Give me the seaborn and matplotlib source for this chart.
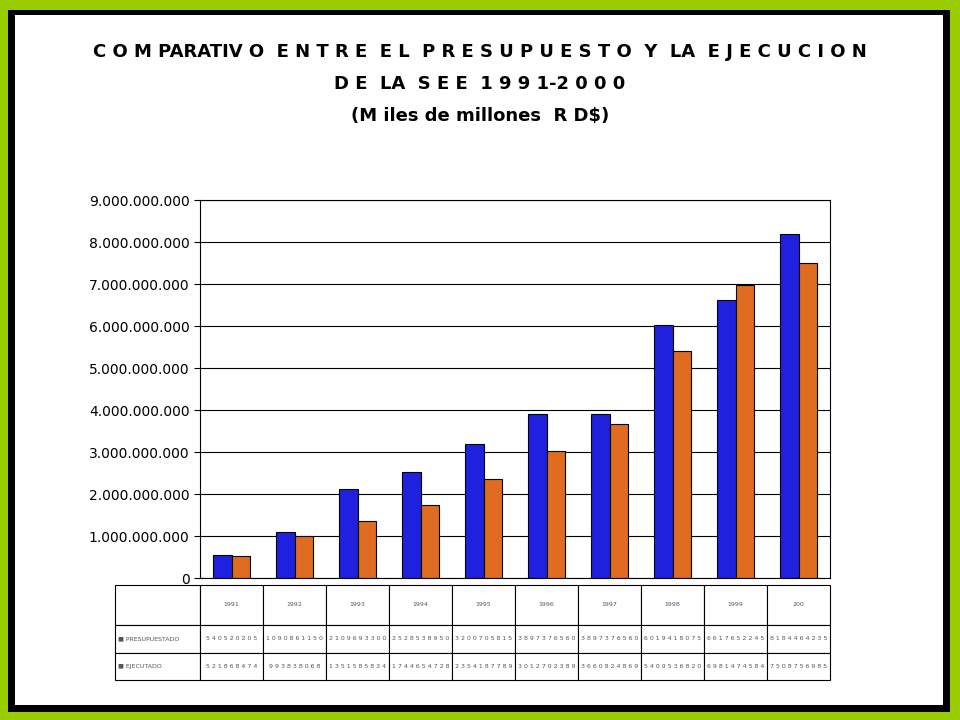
import matplotlib
matplotlib.use("Agg")
import matplotlib.pyplot as plt
import seaborn as sns
import pandas as pd
from matplotlib.patches import Rectangle
from matplotlib.ticker import FuncFormatter

years = ["1991", "1992", "1993", "1994", "1995", "1996", "1997", "1998", "1999", "2000"]
year_labels = ["1991", "1992", "1993", "1994", "1995", "1996", "1997", "1998", "1999", "200"]
presupuestado = [540520205, 1090861150, 2109693300, 2528538950, 3200705815,
                 3897376560, 3897376560, 6019418075, 6617652245, 8184464235]
ejecutado = [521868474, 993838068, 1351585834, 1744654728, 2354187789,
             3012702389, 3660824869, 5409536820, 6981474584, 7508756985]
series = ["PRESUPUESTADO", "EJECUTADO"]
colors = ["#0000ff", "#ff6600"]

df = pd.DataFrame({
    "year": years * 2,
    "value": presupuestado + ejecutado,
    "serie": [series[0]] * 10 + [series[1]] * 10,
})

fig = plt.figure(figsize=(9.6, 7.2), dpi=100)
fig.patch.set_facecolor("#99cc00")
fig.patches.append(Rectangle((8/960, 8/720), 942/960, 702/720, transform=fig.transFigure,
                             facecolor="black", edgecolor="none", zorder=-20))
fig.patches.append(Rectangle((15/960, 15/720), 928/960, 690/720, transform=fig.transFigure,
                             facecolor="white", edgecolor="none", zorder=-10))

fig.text(0.5, 1 - 52/720, "C O M PARATIV O  E N T R E  E L  P R E S U P U E S T O  Y  LA  E J E C U C I O N",
         ha="center", va="center", fontsize=13, fontweight="bold")
fig.text(0.5, 1 - 84/720, "D E  LA  S E E  1 9 9 1-2 0 0 0", ha="center", va="center",
         fontsize=13, fontweight="bold")
fig.text(0.5, 1 - 116/720, "(M iles de millones  R D$)", ha="center", va="center",
         fontsize=13, fontweight="bold")

ax = fig.add_axes([200/960, 1 - 578/720, 630/960, 378/720])
ax.set_zorder(5)
sns.barplot(data=df, x="year", y="value", hue="serie", palette=colors, ax=ax,
            edgecolor="black", linewidth=0.8, width=0.6, legend=False)
ax.set_ylim(0, 9e9)
ax.set_yticks([i * 1e9 for i in range(10)])
ax.yaxis.set_major_formatter(FuncFormatter(lambda v, p: f"{int(v):,}".replace(",", ".")))
ax.tick_params(axis="y", labelsize=10, length=4)
ax.set_xticks([])
ax.set_xlabel("")
ax.set_ylabel("")
ax.grid(axis="y", color="black", linewidth=0.8)
ax.set_axisbelow(True)
ax.patch.set_alpha(0)
for s in ax.spines.values():
    s.set_color("black")
    s.set_linewidth(0.8)

tax = fig.add_axes([115/960, 1 - 680/720, 715/960, 95/720])
tax.set_zorder(5)
tax.axis("off")
fmt = lambda v: " ".join(str(v))
cell_text = [[""] + year_labels,
             ["\u25a0 PRESUPUESTADO"] + [fmt(v) for v in presupuestado],
             ["\u25a0 EJECUTADO"] + [fmt(v) for v in ejecutado]]
tbl = tax.table(cellText=cell_text, bbox=[0, 0, 1, 1], cellLoc="center")
tbl.auto_set_font_size(False)
w0 = 85/715
wc = (1 - w0) / 10
for (r, c), cell in tbl.get_celld().items():
    cell.set_width(w0 if c == 0 else wc)
    cell.set_linewidth(0.8)
    cell.get_text().set_fontsize(4.5)
    cell.get_text().set_color("#555555")
    if c == 0:
        cell.get_text().set_ha("left")
        cell.PAD = 0.03
    if r == 0:
        cell.set_height(40/95)
    else:
        cell.set_height(27.5/95)

fig.savefig("out.png", dpi=100, facecolor=fig.get_facecolor())
